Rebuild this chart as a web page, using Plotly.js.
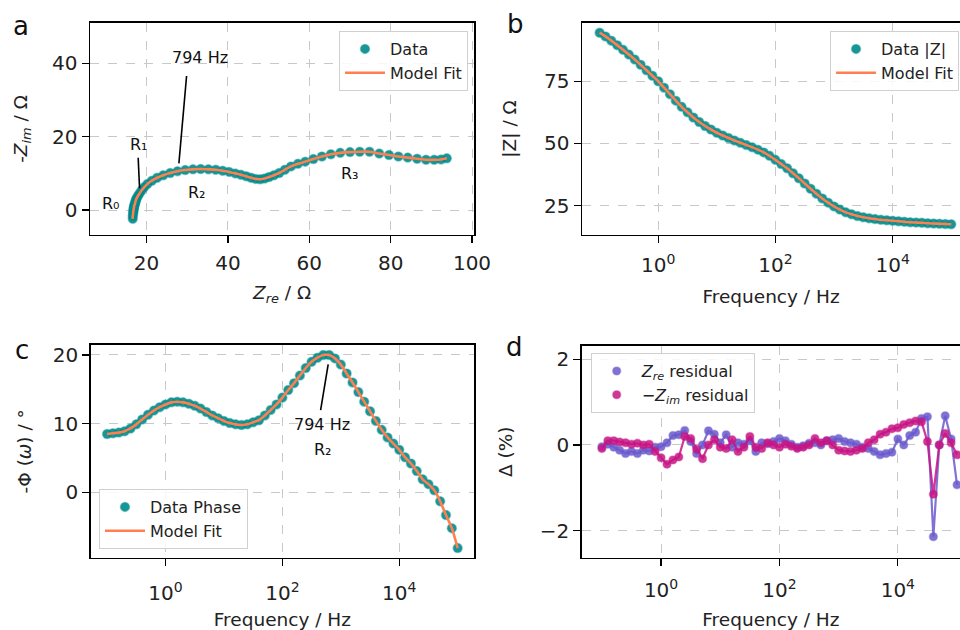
<!DOCTYPE html>
<html>
<head>
<meta charset="utf-8">
<script src="https://cdn.plot.ly/plotly-3.0.1.min.js"></script>
<style>html,body{margin:0;padding:0;background:#fff;overflow:hidden}#chart{width:960px;height:630px}</style>
</head>
<body>
<div id="chart"></div>
<script>
// Frequencies (Hz), 10 points per decade, 0.1 Hz .. 100 kHz
const freq = [0.1, 0.1259, 0.1585, 0.1995, 0.2512, 0.3162, 0.3981, 0.5012, 0.631, 0.7943,
  1, 1.259, 1.585, 1.995, 2.512, 3.162, 3.981, 5.012, 6.31, 7.943,
  10, 12.59, 15.85, 19.95, 25.12, 31.62, 39.81, 50.12, 63.1, 79.43,
  100, 125.9, 158.5, 199.5, 251.2, 316.2, 398.1, 501.2, 631, 794.3,
  1000, 1259, 1585, 1995, 2512, 3162, 3981, 5012, 6310, 7943,
  10000, 12590, 15850, 19950, 25120, 31620, 39810, 50120, 63100, 79430, 100000];

// Panel a: Nyquist (Zre, -Zim) in ohm
const zRe = [93.8, 92.4, 90.7, 88.7, 86.5, 84.2, 81.9, 79.6, 77.2, 74.8,
  72.4, 70.0, 67.6, 65.3, 63.1, 61.0, 59.0, 57.2, 55.5, 54.0,
  52.6, 51.3, 50.1, 49.0, 47.9, 46.8, 45.7, 44.5, 43.2, 41.8,
  40.3, 38.7, 37.0, 35.2, 33.3, 31.4, 29.5, 27.6, 25.8, 24.1,
  22.6, 21.3, 20.2, 19.4, 18.8, 18.3, 17.9, 17.6, 17.4, 17.3,
  17.2, 17.1, 17.0, 16.9, 16.9, 16.8, 16.8, 16.7, 16.7, 16.6, 16.6];
const zImNeg = [14.1, 13.8, 13.7, 13.7, 14.0, 14.3, 14.6, 15.0, 15.4, 15.9,
  15.9, 15.8, 15.6, 15.2, 14.6, 13.9, 13.2, 12.6, 11.9, 11.0,
  10.1, 9.5, 9.0, 8.6, 8.4, 8.5, 8.8, 9.2, 9.6, 10.0,
  10.4, 10.7, 11.0, 11.1, 11.2, 11.1, 10.9, 10.6, 10.1, 9.5,
  8.8, 8.0, 7.1, 6.2, 5.4, 4.6, 3.9, 3.3, 2.8, 2.4,
  2.0, 1.6, 1.3, 1.0, 0.6, 0.3, 0.0, -0.5, -1.0, -1.6, -2.4];

// Panel b: |Z| in ohm
const zMag = [94.5, 93.0, 91.3, 89.5, 87.6, 85.7, 83.7, 81.6, 79.4, 77.2,
  75.0, 72.4, 69.8, 67.2, 64.7, 62.5, 60.4, 58.6, 57.0, 55.6,
  54.3, 53.2, 52.2, 51.2, 50.3, 49.4, 48.5, 47.5, 46.4, 45.0,
  43.4, 41.7, 40.0, 38.0, 36.0, 33.9, 31.8, 29.8, 27.9, 26.2,
  24.7, 23.4, 22.3, 21.5, 20.8, 20.3, 19.9, 19.6, 19.3, 19.1,
  18.9, 18.7, 18.5, 18.3, 18.2, 18.1, 17.9, 17.8, 17.7, 17.6, 17.5];

// Panel c: -phase in degrees
const phaseNeg = [8.5, 8.6, 8.7, 8.9, 9.3, 9.9, 10.6, 11.3, 11.9, 12.4,
  12.8, 13.1, 13.2, 13.1, 12.9, 12.6, 12.2, 11.7, 11.2, 10.8,
  10.4, 10.1, 9.9, 9.8, 9.9, 10.2, 10.5, 11.2, 12.0, 12.8,
  13.8, 14.9, 15.9, 17.0, 18.1, 19.0, 19.6, 20.0, 20.0, 19.5,
  18.6, 17.3, 16.0, 14.6, 13.2, 11.8, 10.4, 9.1, 8.0, 7.1,
  6.2, 5.1, 4.2, 3.1, 1.9, 1.2, 0.3, -1.3, -3.3, -5.2, -8.1];

// Panel d: residuals in %
const resRe = [-0.04, 0.02, -0.05, -0.12, -0.2, -0.15, -0.2, -0.12, -0.14, -0.05,
  -0.04, 0.05, 0.22, 0.24, 0.34, 0.08, -0.2, 0.0, 0.33, 0.25,
  0.05, 0.24, -0.05, 0.05, 0.02, 0.1, -0.15, 0.05, 0.03, 0.08,
  0.15, 0.1, 0.02, -0.05, -0.02, 0.04, 0.05, 0.0, 0.1, 0.12,
  0.15, 0.08, 0.05, 0.02, -0.05, -0.08, -0.15, -0.23, -0.2, -0.17,
  0.14, 0.0, 0.22, 0.3, 0.62, 0.66, -2.14, 0.0, 0.68, 0.14, -0.93];
const resImNeg = [-0.08, 0.1, 0.1, 0.07, 0.05, 0.02, 0.04, 0.0, 0.02, -0.15,
  -0.3, -0.45, -0.35, -0.28, 0.2, 0.15, -0.1, -0.32, 0.0, 0.12,
  -0.05, -0.08, 0.12, -0.15, -0.05, 0.2, -0.05, -0.08, 0.05, 0.0,
  -0.05, 0.02, -0.03, -0.08, -0.05, 0.0, 0.15, 0.05, 0.1, 0.0,
  -0.12, -0.14, -0.15, -0.12, -0.08, 0.05, 0.12, 0.25, 0.3, 0.38,
  0.4, 0.48, 0.52, 0.56, 0.54, 0.08, -1.15, 0.0, 0.27, 0.05, -0.23];

const logTickVals = [1, 100, 10000];
const logTickText = ['10<sup>0</sup>', '10<sup>2</sup>', '10<sup>4</sup>'];

const TEAL = '#008b8b', CORAL = '#ff7f50', BLUE = '#6a5acd', MAGENTA = '#c71585';
const FONT = 'DejaVu Sans, Liberation Sans, sans-serif';

function ax(extra) {
  return Object.assign({
    showline: true, linecolor: '#000', linewidth: 1.5,
    ticks: 'outside', ticklen: 7, tickwidth: 1.3, tickcolor: '#000',
    showgrid: true, gridcolor: '#c8c8c8', griddash: 'dash', gridwidth: 1,
    zeroline: false, automargin: false,
    tickfont: {size: 20, color: '#222', family: FONT}
  }, extra);
}
function ttl(text, standoff) {
  return {text: text, standoff: standoff, font: {size: 18.5, color: '#222', family: FONT}};
}
const dataMarker = {color: TEAL, size: 9, opacity: 0.9, line: {color: 'rgba(0,139,139,0.45)', width: 1.5}};

const traces = [
  {x: zRe, y: zImNeg, mode: 'markers', name: 'Data', marker: dataMarker,
   xaxis: 'x', yaxis: 'y', legend: 'legend'},
  {x: zRe, y: zImNeg, mode: 'lines', name: 'Model Fit', line: {color: CORAL, width: 2.6, shape: 'spline', smoothing: 0.6},
   xaxis: 'x', yaxis: 'y', legend: 'legend'},
  {x: freq, y: zMag, mode: 'markers', name: 'Data |Z|', marker: dataMarker,
   xaxis: 'x2', yaxis: 'y2', legend: 'legend2'},
  {x: freq, y: zMag, mode: 'lines', name: 'Model Fit', line: {color: CORAL, width: 2.6, shape: 'spline', smoothing: 0.6},
   xaxis: 'x2', yaxis: 'y2', legend: 'legend2'},
  {x: freq, y: phaseNeg, mode: 'markers', name: 'Data Phase', marker: dataMarker,
   xaxis: 'x3', yaxis: 'y3', legend: 'legend3'},
  {x: freq, y: phaseNeg, mode: 'lines', name: 'Model Fit', line: {color: CORAL, width: 2.6, shape: 'spline', smoothing: 0.6},
   xaxis: 'x3', yaxis: 'y3', legend: 'legend3'},
  {x: freq, y: resRe, mode: 'lines', showlegend: false, line: {color: BLUE, width: 2.2}, opacity: 0.85,
   xaxis: 'x4', yaxis: 'y4', hoverinfo: 'skip'},
  {x: freq, y: resRe, mode: 'markers', name: '<i>Z</i><sub><i>re</i></sub> residual',
   marker: {color: BLUE, size: 8, opacity: 0.85, line: {color: 'rgba(106,90,205,0.4)', width: 1.5}},
   xaxis: 'x4', yaxis: 'y4', legend: 'legend4'},
  {x: freq, y: resImNeg, mode: 'lines', showlegend: false, line: {color: MAGENTA, width: 2.2}, opacity: 0.85,
   xaxis: 'x4', yaxis: 'y4', hoverinfo: 'skip'},
  {x: freq, y: resImNeg, mode: 'markers', name: '−<i>Z</i><sub><i>im</i></sub> residual',
   marker: {color: MAGENTA, size: 8, opacity: 0.85, line: {color: 'rgba(199,21,133,0.4)', width: 1.5}},
   xaxis: 'x4', yaxis: 'y4', legend: 'legend4'}
];

const legBase = {bgcolor: 'rgba(255,255,255,0.85)', bordercolor: '#d0d0d0', borderwidth: 1,
  font: {size: 16, color: '#222', family: FONT}, itemwidth: 40, tracegroupgap: 0};

const lineShape = (xr, yr, x0, y0, x1, y1) => ({type: 'line', xref: xr, yref: yr, x0: x0, y0: y0, x1: x1, y1: y1,
  line: {color: '#000', width: 1.6}});
const txt = (xr, yr, x, y, t, size) => ({xref: xr, yref: yr, x: x, y: y, text: t, showarrow: false,
  font: {size: size || 16, color: '#111', family: FONT}, xanchor: 'center', yanchor: 'middle'});

const layout = {
  width: 960, height: 630, margin: {l: 0, r: 0, t: 0, b: 0},
  paper_bgcolor: '#fff', plot_bgcolor: '#fff',
  font: {family: FONT, size: 16, color: '#222'},
  xaxis: ax({domain: [0.0938, 0.4938], anchor: 'y', range: [6.1, 100.5], tickvals: [20, 40, 60, 80, 100], mirror: true,
    ticklabelstandoff: 3, title: ttl('<i>Z</i><sub><i>re</i></sub> / Ω', 11)}),
  yaxis: ax({domain: [0.627, 0.9635], anchor: 'x', range: [-6.8, 51.0], tickvals: [0, 20, 40], mirror: true,
    title: ttl('-<i>Z</i><sub><i>im</i></sub> / Ω', 19)}),
  xaxis2: ax({domain: [0.6063, 1], anchor: 'y2', type: 'log', range: [-1.30, 5.15], tickvals: logTickVals, ticktext: logTickText,
    mirror: true, ticklabelstandoff: 5, title: ttl('Frequency / Hz', 13)}),
  yaxis2: ax({domain: [0.627, 0.9635], anchor: 'x2', range: [13.2, 98.4], tickvals: [25, 50, 75],
    title: ttl('|Z| / Ω', 22)}),
  xaxis3: ax({domain: [0.0945, 0.4938], anchor: 'y3', type: 'log', range: [-1.28, 5.28], tickvals: logTickVals, ticktext: logTickText,
    mirror: true, ticklabelstandoff: 10, title: ttl('Frequency / Hz', 18)}),
  yaxis3: ax({domain: [0.1148, 0.4524], anchor: 'x3', range: [-9.5, 21.45], tickvals: [0, 10, 20], mirror: true,
    title: ttl('-Φ (<i>ω</i>) / °', 16)}),
  xaxis4: ax({domain: [0.606, 1], anchor: 'y4', type: 'log', range: [-1.34, 5.05], tickvals: logTickVals, ticktext: logTickText,
    mirror: true, ticklabelstandoff: 7, title: ttl('Frequency / Hz', 19)}),
  yaxis4: ax({domain: [0.1148, 0.4508], anchor: 'x4', range: [-2.63, 2.31], tickvals: [-2, 0, 2], ticktext: ['−2', '0', '2'],
    title: ttl('Δ (%)', 22)}),
  legend: Object.assign({}, legBase, {x: 0.4875, xanchor: 'right', y: 0.9508, yanchor: 'top'}),
  legend2: Object.assign({}, legBase, {x: 0.999, xanchor: 'right', y: 0.9508, yanchor: 'top'}),
  legend3: Object.assign({}, legBase, {x: 0.1031, xanchor: 'left', y: 0.1286, yanchor: 'bottom'}),
  legend4: Object.assign({}, legBase, {x: 0.6153, xanchor: 'left', y: 0.4397, yanchor: 'top'}),
  shapes: [
    lineShape('x', 'y', 17.93, 14.27, 18.27, 5.92),
    lineShape('x', 'y', 29.83, 36.56, 27.94, 12.74),
    lineShape('x3', 'y3', 608, 18.63, 451, 11.98)
  ],
  annotations: [
    txt('x', 'y', 33.1, 41.5, '794 Hz'),
    txt('x', 'y', 11.2, 1.9, 'R₀'),
    txt('x', 'y', 18.1, 18.0, 'R₁'),
    txt('x', 'y', 32.4, 4.8, 'R₂'),
    txt('x', 'y', 70.0, 10.0, 'R₃'),
    txt('x3', 'y3', 2.67, 9.9, '794 Hz'),
    txt('x3', 'y3', 2.70, 6.2, 'R₂'),
    txt('paper', 'paper', 21 / 960, 1 - 26 / 630, 'a', 26),
    txt('paper', 'paper', 515 / 960, 1 - 24 / 630, 'b', 26),
    txt('paper', 'paper', 22 / 960, 1 - 350 / 630, 'c', 26),
    txt('paper', 'paper', 514 / 960, 1 - 347 / 630, 'd', 26)
  ]
};

Plotly.newPlot('chart', traces, layout, {staticPlot: true, displayModeBar: false});
</script>
</body>
</html>
